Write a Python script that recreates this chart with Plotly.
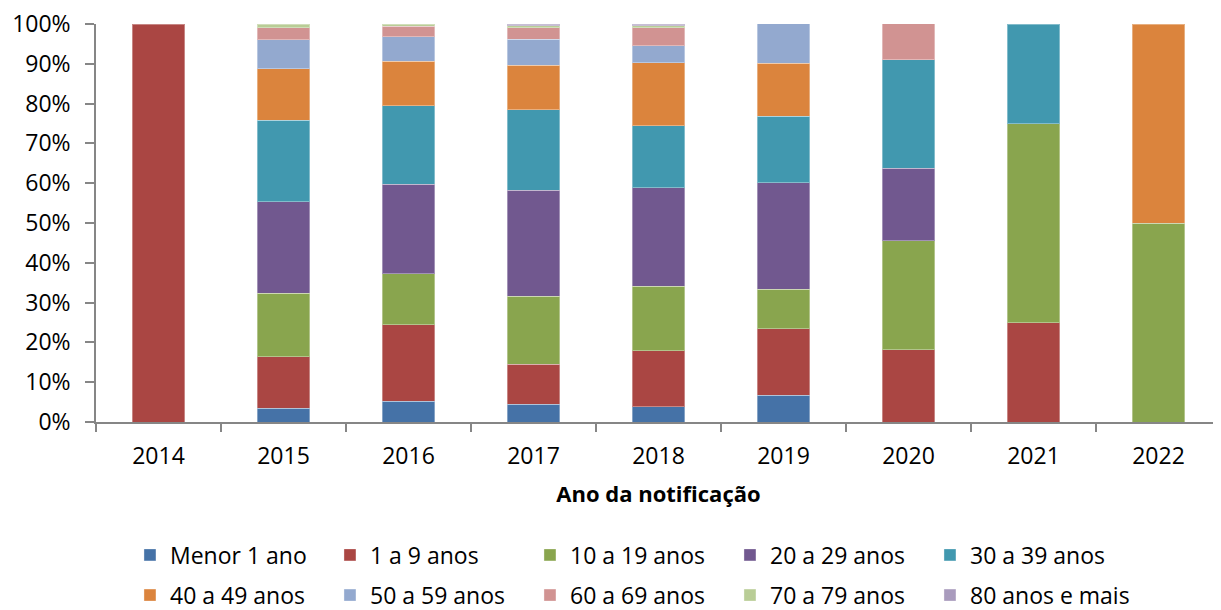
import plotly.graph_objects as go

years = ["2014", "2015", "2016", "2017", "2018", "2019", "2020", "2021", "2022"]

series_names = ["Menor 1 ano", "1 a 9 anos", "10 a 19 anos", "20 a 29 anos", "30 a 39 anos",
                "40 a 49 anos", "50 a 59 anos", "60 a 69 anos", "70 a 79 anos", "80 anos e mais"]

menor_1 = [0, 3.4, 5.2, 4.5, 3.8, 6.7, 0, 0, 0]
a1_9 = [100, 13.0, 19.2, 10.0, 14.1, 16.7, 18.2, 25, 0]
a10_19 = [0, 15.9, 12.9, 17.1, 16.2, 10.0, 27.3, 50, 50]
a20_29 = [0, 23.0, 22.5, 26.6, 24.7, 26.7, 18.2, 0, 0]
a30_39 = [0, 20.5, 19.6, 20.2, 15.6, 16.7, 27.3, 25, 0]
a40_49 = [0, 13.0, 11.2, 11.2, 15.9, 13.3, 0, 0, 50]
a50_59 = [0, 7.3, 6.2, 6.6, 4.2, 10.0, 0, 0, 0]
a60_69 = [0, 3.0, 2.6, 2.9, 4.6, 0, 9.1, 0, 0]
a70_79 = [0, 0.9, 0.6, 0.4, 0.4, 0, 0, 0, 0]
a80_mais = [0, 0, 0, 0.5, 0.5, 0, 0, 0, 0]

series_values = [menor_1, a1_9, a10_19, a20_29, a30_39, a40_49, a50_59, a60_69, a70_79, a80_mais]

colors = ["#4572A7", "#AA4643", "#89A54E", "#71588F", "#4198AF",
          "#DB843D", "#93A9CF", "#D19392", "#B9CD96", "#A99BBD"]

y_ticks = [0, 10, 20, 30, 40, 50, 60, 70, 80, 90, 100]
y_tick_labels = [f"{v}%" for v in y_ticks]

FONT = "Open Sans"
FS = 23

fig = go.Figure()
for i, (name, vals, col) in enumerate(zip(series_names, series_values, colors)):
    fig.add_trace(go.Bar(
        name=name,
        x=years,
        y=[v if v else None for v in vals],
        marker=dict(color=col, line=dict(color="rgba(255,255,255,0.35)", width=1)),
        hoverinfo="x+y+name",
        legend="legend" if i < 5 else "legend2",
    ))

legend_common = dict(
    orientation="h",
    x=0.0302, xanchor="left",
    yanchor="middle",
    entrywidth=155, entrywidthmode="pixels",
    traceorder="normal",
    font=dict(family=FONT, size=FS, color="#000000"),
    itemclick=False, itemdoubleclick=False,
    bgcolor="rgba(0,0,0,0)",
)

# page body has an 8px margin, so the figure is sized/offset to compensate
fig.update_layout(
    barmode="stack",
    bargap=0.58,
    width=1213,
    height=602,
    margin=dict(l=88, r=0, t=16, b=188, autoexpand=False),
    paper_bgcolor="white",
    plot_bgcolor="white",
    font=dict(family=FONT, size=FS, color="#000000"),
    showlegend=True,
    legend=dict(legend_common, y=-0.334),
    legend2=dict(legend_common, y=-0.435),
    xaxis=dict(
        type="category",
        showgrid=False,
        showline=True, linecolor="#868686", linewidth=1.5,
        ticks="outside", tickson="boundaries", ticklen=8, tickcolor="#868686", tickwidth=1.5,
        tickfont=dict(family=FONT, size=FS, color="#000000"),
        ticklabelstandoff=13,
        title=dict(text="<b>Ano da notificação</b>", font=dict(family=FONT, size=22, color="#000000"), standoff=16),
    ),
    yaxis=dict(
        range=[0, 100],
        tickvals=y_ticks,
        ticktext=y_tick_labels,
        showgrid=False,
        zeroline=False,
        showline=True, linecolor="#868686", linewidth=1.5,
        ticks="outside", ticklen=9, tickcolor="#868686", tickwidth=1.5,
        tickfont=dict(family=FONT, size=FS, color="#000000"),
        ticklabelstandoff=10,
        ticklabeloverflow="allow",
    ),
)

fig.write_html("out.html")
